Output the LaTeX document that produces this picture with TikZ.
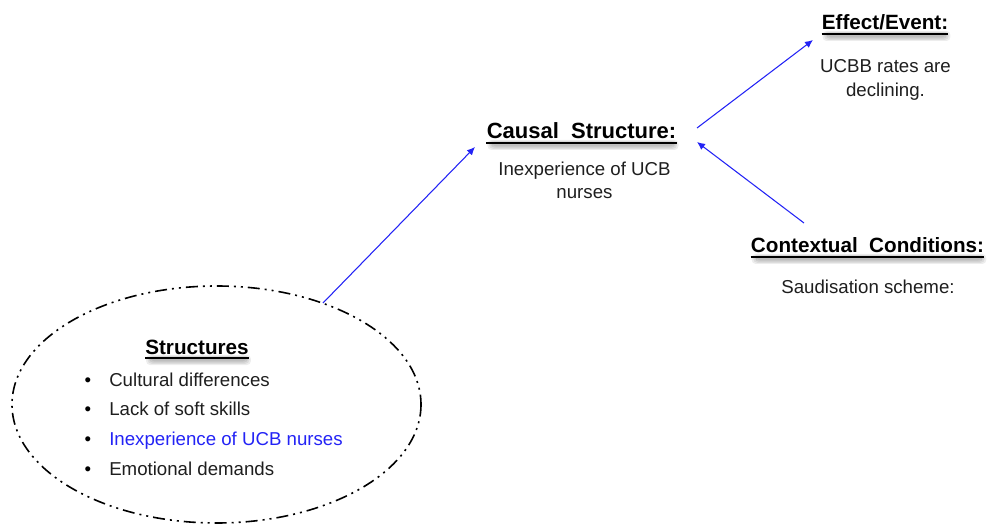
\documentclass[tikz,border=0pt]{standalone}
\usepackage{fontspec}
\setmainfont{Liberation Sans}
\usetikzlibrary{arrows.meta,calc}
\definecolor{linkblue}{RGB}{35,35,245}
\definecolor{bodytext}{RGB}{30,30,30}

% heading: bold text over a soft grey haze, underlined
% #1 name, #2 x, #3 y (baseline), #4 font size (pt), #5 text
\newcommand\headline[5]{%
  \node[heading,font=\fontsize{#4}{#4}\selectfont\bfseries,text opacity=0] (#1) at (#2,#3) {#5};
  \foreach \i in {0,1,2,3}{%
    \fill[black,opacity=0.07,rounded corners=3pt]
      ($(#1.base west)+(1+\i*1.5,1+\i*0.8)$) rectangle ($(#1.base east)+(2-\i*1.5,11-\i*1.2)$);}
  \node[heading,font=\fontsize{#4}{#4}\selectfont\bfseries] at (#1.base) {#5};
  \draw[line width=1.2pt] ($(#1.base west)+(0,4)$) -- ($(#1.base east)+(0,4)$);
}

\begin{document}
\begin{tikzpicture}[x=0.75pt,y=-0.75pt,
  heading/.style={inner sep=0pt, anchor=base},
  body/.style={font=\fontsize{14}{17}\selectfont, text=bodytext, inner sep=0pt, anchor=base},
  item/.style={body, anchor=base west},
  link/.style={draw=linkblue, line width=0.8pt, -{Latex[length=6pt,width=5.5pt]}},
  boundary/.style={draw=black, line width=1.2pt,
    dash pattern=on 9pt off 3.75pt on 1.5pt off 3.75pt on 1.5pt off 3.75pt},
]
\useasboundingbox (0,0) rectangle (990,524);

% causal structure
\headline{causal}{581.5}{139}{16.5}{Causal\ \ Structure:}
\node[body] (causal1) at (584.5,176) {Inexperience of UCB};
\node[body] (causal2) at (584.5,199) {nurses};

% effect / event
\headline{effect}{885}{30}{15.5}{Effect/Event:}
\node[body] (effect1) at (885.5,73) {UCBB rates are};
\node[body] (effect2) at (885.5,97) {declining.};

% contextual conditions
\headline{context}{867.5}{253}{15.5}{Contextual\ \ Conditions:}
\node[body] (context1) at (868,294) {Saudisation scheme:};

% structures ellipse
\draw[boundary] (216.5,404.5) ellipse [x radius=204.5, y radius=118.5];
\headline{structures}{197}{354}{15.5}{Structures}
\foreach \y/\n/\t/\c in {386/s1/Cultural differences/bodytext,
                         416/s2/Lack of soft skills/bodytext,
                         445.5/s3/Inexperience of UCB nurses/linkblue,
                         475/s4/Emotional demands/bodytext}{
  \node[body,text=black] (b\n) at (88,\y) {\textbullet};
  \node[item,text=\c] (\n) at (109,\y) {\t};
}

% connector end points
\coordinate (ellTop) at (323,303);
\coordinate (causalIn) at (475,147);
\coordinate (causalOut) at (697,128);
\coordinate (effectIn) at (813,40);
\coordinate (contextOut) at (804,223);
\coordinate (causalSide) at (697,142);

\draw[link] (ellTop) -- (causalIn);
\draw[link] (causalOut) -- (effectIn);
\draw[link] (contextOut) -- (causalSide);
\end{tikzpicture}
\end{document}
